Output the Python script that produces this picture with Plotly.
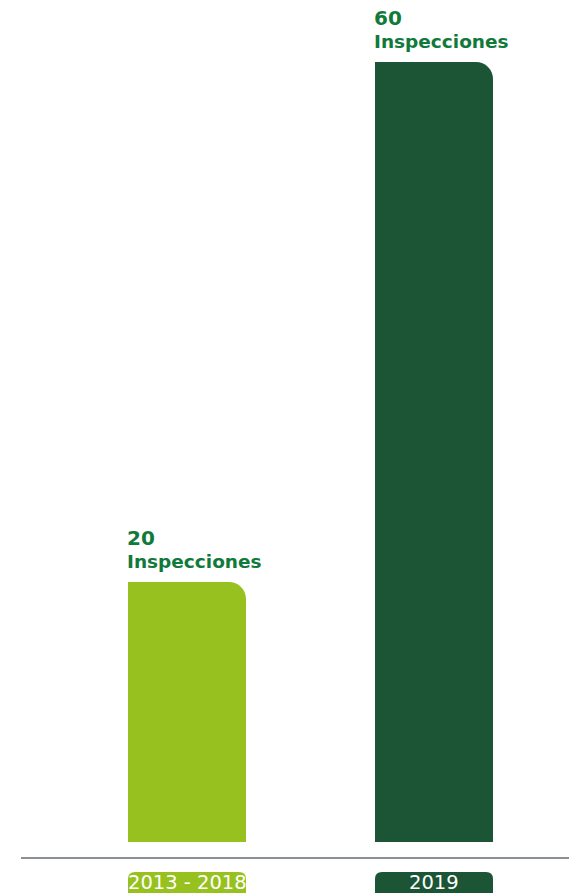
import plotly.graph_objects as go

categories = ["2013 - 2018", "2019"]
values = [20, 60]
unit_label = "Inspecciones"
bar_colors = ["#97c11f", "#1b5535"]
text_color = "#117a3b"

W, H = 569, 893
x_pos = list(range(len(categories)))
px_per_x = 247.0
px_per_y = 13.0
bar_w = 118 / px_per_x
font = "DejaVu Sans"

fig = go.Figure()

# main bars (top corners rounded)
fig.add_trace(go.Bar(
    x=x_pos, y=values, width=bar_w,
    marker=dict(color=bar_colors, line=dict(width=0), cornerradius=17),
    hoverinfo="skip", showlegend=False,
))
# square off the top-left corner
fill_h = 2.0
fig.add_trace(go.Bar(
    x=x_pos, y=[fill_h] * len(values), base=[v - fill_h for v in values],
    width=bar_w * 0.6, offset=-bar_w / 2,
    marker=dict(color=bar_colors, line=dict(width=0)),
    hoverinfo="skip", showlegend=False,
))

annotations = []
shapes = []
for i, (cat, v) in enumerate(zip(categories, values)):
    left = i - bar_w / 2
    annotations.append(dict(
        x=left, y=v, xref="x", yref="y", xanchor="left", yanchor="middle",
        yshift=44, xshift=-3, text=f"<b>{v}</b>", showarrow=False,
        font=dict(family=font, size=20, color=text_color),
    ))
    annotations.append(dict(
        x=left, y=v, xref="x", yref="y", xanchor="left", yanchor="middle",
        yshift=21, xshift=-3, text=f"<b>{unit_label}</b>", showarrow=False,
        font=dict(family=font, size=18.5, color=text_color),
    ))
    # label box with rounded top corners
    rx = 7 / px_per_x
    ry = 7 / H
    x0, x1 = left, i + bar_w / 2
    y_top = 1 - 872 / H
    y_bot = -0.02
    path = (f"M {x0} {y_bot} L {x0} {y_top - ry} Q {x0} {y_top} {x0 + rx} {y_top} "
            f"L {x1 - rx} {y_top} Q {x1} {y_top} {x1} {y_top - ry} L {x1} {y_bot} Z")
    shapes.append(dict(type="path", path=path, xref="x", yref="paper",
                       fillcolor=bar_colors[i], line=dict(width=0), layer="above"))
    annotations.append(dict(
        x=i, y=1 - 882 / H, xref="x", yref="paper", xanchor="center", yanchor="middle",
        text=cat, showarrow=False,
        font=dict(family=font, size=19.5, color="white"),
    ))

# baseline
shapes.append(dict(type="line", xref="paper", yref="paper",
                   x0=21 / W, x1=1, y0=1 - 858 / H, y1=1 - 858 / H,
                   line=dict(color="#8a9196", width=2)))

x_min = -187 / px_per_x
x_max = (W - 187) / px_per_x
y_min = -(H - 842) / px_per_y
y_max = 842 / px_per_y

fig.update_layout(
    width=W, height=H,
    margin=dict(l=0, r=0, t=0, b=0),
    paper_bgcolor="white", plot_bgcolor="white",
    barmode="overlay",
    xaxis=dict(range=[x_min, x_max], visible=False, fixedrange=True),
    yaxis=dict(range=[y_min, y_max], visible=False, fixedrange=True),
    annotations=annotations, shapes=shapes,
    showlegend=False,
)

fig.write_html(
    "out.html",
    config={"displayModeBar": False},
    post_script="document.body.style.margin='0';document.body.style.overflow='hidden';",
)
